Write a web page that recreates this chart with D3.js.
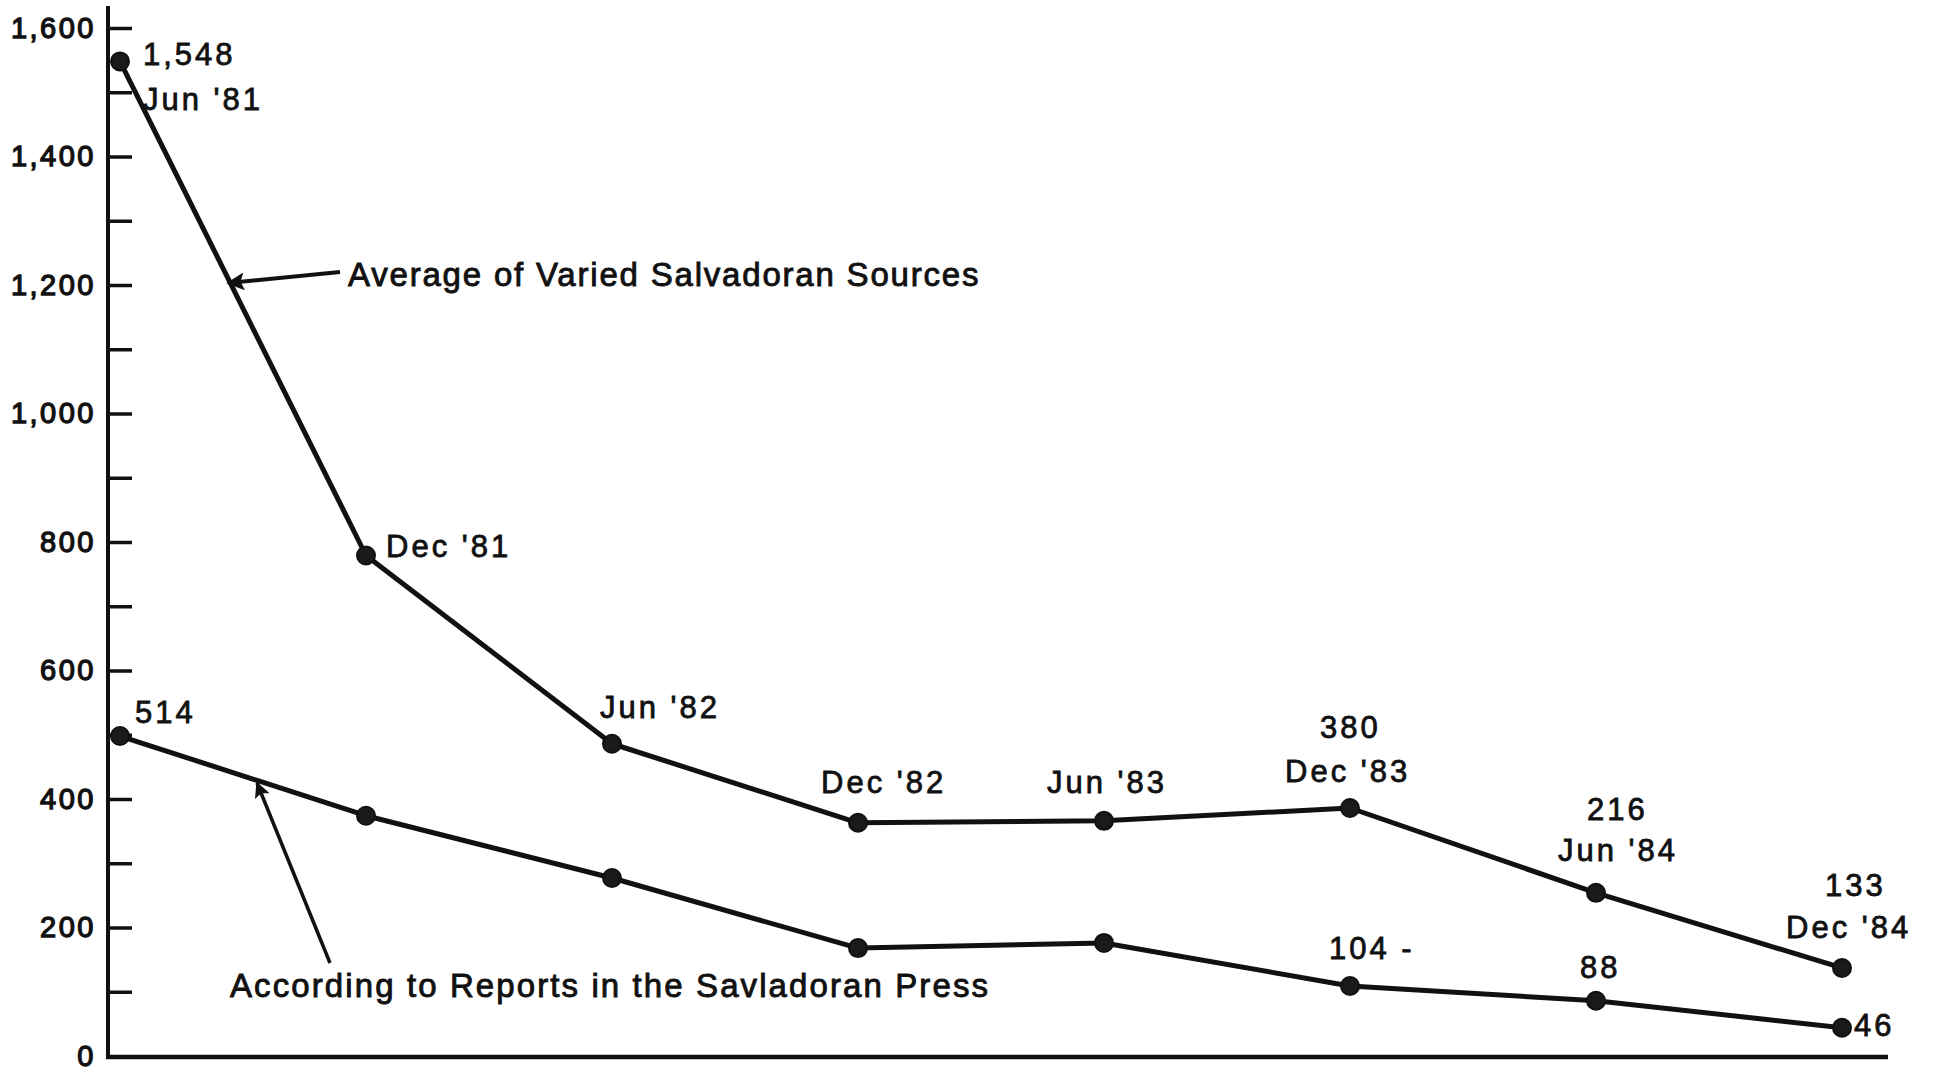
<!DOCTYPE html>
<html>
<head>
  <meta charset="utf-8">
  <script src="https://d3js.org/d3.v7.min.js"></script>
  <style>
    body { margin: 0; background: #fff; }
    svg text { font-family: "Liberation Sans", Arial, sans-serif; fill: #111; }
  </style>
</head>
<body>
<script>
  // half-year periods on the x axis
  var periods = ["Jun '81", "Dec '81", "Jun '82", "Dec '82", "Jun '83", "Dec '83", "Jun '84", "Dec '84"];

  // values as plotted in the picture
  var averageSources = [1548, 779, 486, 363, 366, 386, 254, 137];
  var pressReports   = [498, 374, 277, 168, 176, 109, 86, 44];

  // printed labels next to the points
  var averageLabels = [["1,548", "Jun '81"], ["Dec '81"], ["Jun '82"], ["Dec '82"], ["Jun '83"], ["380", "Dec '83"], ["216", "Jun '84"], ["133", "Dec '84"]];
  var pressLabels   = [["514"], [], [], [], [], ["104 -"], ["88"], ["46"]];

  var yTicks = [0, 100, 200, 300, 400, 500, 600, 700, 800, 900, 1000, 1100, 1200, 1300, 1400, 1500, 1600];

  var seriesNames = ["Average of Varied Salvadoran Sources", "According to Reports in the Savladoran Press"];

  // label placement, offset from each point (first line, then step for next lines)
  var averageLabelPos = [[23, 4], [20, 2], [-12, -26], [-37, -30], [-57, -28], [[-30, -70], [-65, -26]], [[-9, -73], [-38, -32]], [[-17, -72], [-56, -30]]];
  var pressLabelPos   = [[15, -13], null, null, null, null, [-21, -27], [-16, -23], [12, 8]];

  var W = 1934, H = 1073;
  var svg = d3.select("body").append("svg").attr("width", W).attr("height", H);

  var x = d3.scalePoint().domain(periods).range([120, 1842]);
  var y = d3.scaleLinear().domain([0, 1600]).range([1056, 28]);

  // y axis
  var yAxis = d3.axisLeft(y)
    .tickValues(yTicks)
    .tickSize(-24)
    .tickPadding(12)
    .tickFormat(function (d) { return d % 200 === 0 ? d3.format(",")(d) : ""; });

  var gy = svg.append("g").attr("transform", "translate(108,0)").call(yAxis);
  gy.select(".domain").remove();
  gy.selectAll(".tick line").attr("stroke", "#111").attr("stroke-width", 3.5);
  gy.selectAll(".tick").filter(function (d) { return d === 0; }).select("line").remove();
  gy.selectAll(".tick text")
    .style("font-size", "29px")
    .style("letter-spacing", "2.5px")
    .attr("stroke", "#111").attr("stroke-width", 1.3)
    .attr("fill", "#111");

  svg.append("line").attr("x1", 108).attr("x2", 108).attr("y1", 6).attr("y2", 1058)
    .attr("stroke", "#111").attr("stroke-width", 4);
  svg.append("line").attr("x1", 106).attr("x2", 1888).attr("y1", 1057).attr("y2", 1057)
    .attr("stroke", "#111").attr("stroke-width", 4.5);

  var line = d3.line()
    .x(function (d, i) { return x(periods[i]); })
    .y(function (d) { return y(d); });

  [averageSources, pressReports].forEach(function (vals) {
    svg.append("path").datum(vals).attr("d", line)
      .attr("fill", "none").attr("stroke", "#111").attr("stroke-width", 5)
      .attr("stroke-linejoin", "round");
    svg.append("g").selectAll("circle").data(vals).join("circle")
      .attr("cx", function (d, i) { return x(periods[i]); })
      .attr("cy", function (d) { return y(d); })
      .attr("r", 9)
      .attr("fill", "#1a1a1a").attr("stroke", "#111").attr("stroke-width", 2);
  });

  function drawLabels(vals, labels, pos) {
    labels.forEach(function (lines, i) {
      if (!lines.length) return;
      var px = x(periods[i]), py = y(vals[i]);
      var p = pos[i];
      lines.forEach(function (txt, j) {
        var off;
        if (Array.isArray(p[0])) off = p[j];
        else off = [p[0], p[1] + j * 45];
        svg.append("text")
          .attr("x", px + off[0]).attr("y", py + off[1])
          .style("font-size", "31px").style("letter-spacing", "3px")
          .attr("stroke", "#111").attr("stroke-width", 0.8)
          .text(txt);
      });
    });
  }
  drawLabels(averageSources, averageLabels, averageLabelPos);
  drawLabels(pressReports, pressLabels, pressLabelPos);

  // series annotations with arrows
  svg.append("defs").append("marker")
    .attr("id", "head").attr("viewBox", "0 0 10 10")
    .attr("refX", 9).attr("refY", 5)
    .attr("markerWidth", 8).attr("markerHeight", 4.5)
    .attr("markerUnits", "strokeWidth")
    .attr("orient", "auto")
    .append("path").attr("d", "M0,0 L10,5 L0,10 L2,5 Z").attr("fill", "#111");

  svg.append("line").attr("x1", 340).attr("y1", 272).attr("x2", 228).attr("y2", 283)
    .attr("stroke", "#111").attr("stroke-width", 4).attr("marker-end", "url(#head)");
  svg.append("text").attr("x", 348).attr("y", 286)
    .style("font-size", "33px").style("letter-spacing", "1.8px")
    .attr("stroke", "#111").attr("stroke-width", 0.9)
    .text(seriesNames[0]);

  svg.append("line").attr("x1", 330).attr("y1", 963).attr("x2", 257).attr("y2", 783)
    .attr("stroke", "#111").attr("stroke-width", 3.5).attr("marker-end", "url(#head)");
  svg.append("text").attr("x", 230).attr("y", 997)
    .style("font-size", "33px").style("letter-spacing", "2.1px")
    .attr("stroke", "#111").attr("stroke-width", 0.9)
    .text(seriesNames[1]);
</script>
</body>
</html>
